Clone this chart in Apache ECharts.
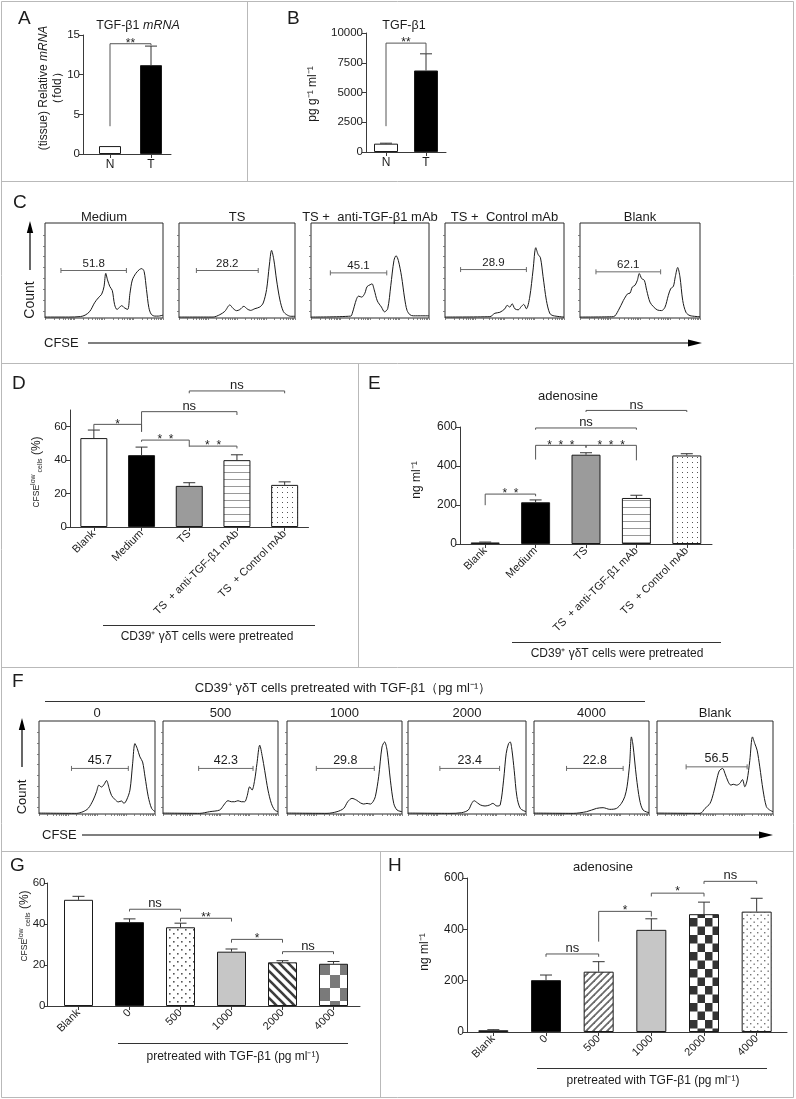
<!DOCTYPE html>
<html><head><meta charset="utf-8">
<script src="https://cdn.jsdelivr.net/npm/echarts@6/dist/echarts.min.js"></script>
<style>html,body{margin:0;padding:0;background:#fff}#c{width:796px;height:1099px}</style>
</head><body><div id="c"></div>
<script>
// ================= DATA =================
// Panel A  TGF-β1 mRNA
const aCategories = ['N', 'T'];
const aValues = [1.0, 11.2];
const aErrTop = [1.0, 13.6];
const aTicks = [0, 5, 10, 15];
const aSig = [[0, 1, 13.9, 3.5, 13.7, '**']];
// Panel B  TGF-β1 protein
const bCategories = ['N', 'T'];
const bValues = [700, 6850];
const bErrTop = [740, 8250];
const bTicks = [0, 2500, 5000, 7500, 10000];
const bSig = [[0, 1, 9150, 2170, 8250, '**']];
// Panel D  CFSE-low cells (%)
const dCategories = ['Blank', 'Medium', 'TS', 'TS  + anti-TGF-β1 mAb', 'TS  + Control mAb'];
const dValues = [53.2, 43.0, 24.6, 40.0, 25.2];
const dErrTop = [58.0, 47.8, 26.5, 43.2, 27.0];
const dTicks = [0, 20, 40, 60];
// [from, to, line value, left leg end, right leg end, label]
const dSig = [
  [0, 1, 61.4, 58, 57, '*'],
  [1, 3, 69, 57, 67, 'ns'],
  [2, 4, 81.4, 80, 80, 'ns'],
  [1, 2, 52, 51, 48, '*  *'],
  [2, 3, 48.4, 48.4, 47, '*  *']
];
// Panel E  adenosine
const eCategories = ['Blank', 'Medium', 'TS', 'TS  + anti-TGF-β1 mAb', 'TS  + Control mAb'];
const eValues = [8, 214, 458, 236, 454];
const eErrTop = [10, 226, 468, 250, 463];
const eTicks = [0, 200, 400, 600];
const eSig = [
  [0, 1, 256, 199, 245, '*  *'],
  [1, 2, 506, 433, 494, '*  *  *'],
  [2, 3, 506, 494, 429, '*  *  *'],
  [1, 3, 595, 586, 586, 'ns'],
  [2, 4, 685, 677, 677, 'ns']
];
// Panel G  CFSE-low cells (%) vs TGF-β1 dose
const gCategories = ['Blank', '0', '500', '1000', '2000', '4000'];
const gValues = [51.8, 40.9, 38.4, 26.5, 21.3, 20.6];
const gErrTop = [53.5, 42.5, 40.4, 27.8, 22.1, 21.7];
const gTicks = [0, 20, 40, 60];
const gSig = [
  [1, 2, 47.2, 46.1, 46.1, 'ns'],
  [2, 3, 42.8, 41.2, 41.2, '**'],
  [3, 4, 32.5, 30.9, 30.9, '*'],
  [4, 5, 26.5, 25.3, 25.3, 'ns']
];
// Panel H  adenosine vs TGF-β1 dose
const hCategories = ['Blank', '0', '500', '1000', '2000', '4000'];
const hValues = [7, 202, 235, 398, 459, 469];
const hErrTop = [9, 222, 274, 441, 506, 521];
const hTicks = [0, 200, 400, 600];
const hSig = [
  [1, 2, 304, 293, 293, 'ns'],
  [2, 3, 470, 352, 450, '*'],
  [3, 4, 541, 528, 528, '*'],
  [4, 5, 587, 577, 577, 'ns']
];
// Panel C flow histograms [CFSE position (0-100), % of max count]
const cTitles = ['Medium', 'TS', 'TS +  anti-TGF-β1 mAb', 'TS +  Control mAb', 'Blank'];
const cMedium = [[0,1],[20,1],[30,1.5],[34,3],[38,7],[42,16],[45,21],[48,25],[50,33],[51.5,47],[53,40],[55,33],[57,29],[59,14],[61,9],[63,11],[65,13],[67,11],[70,9],[72,26],[74,40],[77,47],[80,51],[82,52],[84,49],[86,30],[88,11],[90,4],[93,2],[96,2],[100,3]];
const cTS = [[0,1],[29.4,1],[35.2,3.5],[39.5,7],[43.8,13.7],[46.7,10],[49.6,7.7],[52.4,8.8],[55.9,12.3],[58.8,9.5],[61.7,8],[65.4,9.8],[69.7,11.6],[72.6,15.8],[75.5,30],[77.8,54.7],[79.8,71.2],[81.8,61],[84.1,40],[87,19],[89.9,7],[92.8,3.5],[96.3,1.8],[100,1.8]];
const cAnti = [[0,1],[33.7,2],[35,5],[38.5,19.7],[40.3,23],[43,22],[45.6,26],[47.5,33],[50.1,35],[51.7,36],[53.6,29.5],[56.2,18],[59.7,11.5],[62.3,6.5],[65,9.8],[67.6,34],[70.3,60.6],[72.1,65.6],[74,60.6],[76.7,44],[79.3,21],[81.4,8],[84,3.3],[86.7,2.3],[100,2.3]];
const cControl = [[0,1],[37.7,1.4],[41.9,5],[46.1,6],[50.3,9.7],[52.2,13.3],[54.5,11.5],[56.4,15],[58.7,9.7],[61.5,8.6],[64.2,12.2],[66.2,14.3],[68.4,9.7],[71.2,22],[74,50.5],[76.3,74],[78.2,67],[80.2,63.4],[82.4,43.7],[85.2,18.6],[88,5],[90.8,2.5],[100,1]];
const cBlank = [[0,1],[27.8,1.4],[31.9,7.8],[36.1,18.4],[39.7,25.5],[41.7,26.2],[43.6,32.6],[45.8,34.4],[47.8,39.7],[49.4,46.8],[51.4,41.5],[53.6,39.7],[55.6,29],[58.3,16.7],[61.1,12],[64.4,8.5],[68,7.8],[70.8,11.3],[73.6,23.8],[75.6,30.9],[77.8,33.3],[79.4,43.3],[81.4,53.2],[83.3,43.3],[85.6,18.4],[88.3,6],[91.7,2.5],[100,1.4]];
// gates: [from, to, level, label]
const cGates = [[13.5,69,50,'51.8'],[15,68.3,50,'28.2'],[16.4,64.2,47.5,'45.1'],[13.1,68.4,51,'28.9'],[13.3,67.2,48.6,'62.1']];
// Panel F flow histograms
const fTitles = ['0', '500', '1000', '2000', '4000', 'Blank'];
const fDose0 = [[0,1],[32.3,0.7],[38,2.5],[42.4,6],[46.7,15],[49.6,24],[51.6,31],[53.9,29],[56.2,32],[58.2,36],[60.5,27.5],[62.5,20],[65.4,15.7],[68.3,13],[71.2,14],[73.2,11.4],[75.5,15],[78.4,25.7],[80.7,54],[82.7,75.7],[84.7,70.4],[87,61.4],[89.3,56],[91.4,40],[94.2,18.6],[97.1,6],[100,2.5]];
const fDose500 = [[0,1],[31.9,0.7],[40.6,2.5],[49.3,4.3],[52.8,9.6],[56.5,14.3],[59.4,13.2],[62.3,13.2],[65.2,14.3],[68.1,13.2],[71,13.2],[73,18.6],[75.4,29.3],[77.4,25.7],[79.7,36.4],[81.7,54.3],[84.1,74],[86.4,61.4],[88.4,47],[91.3,25.7],[94.2,11.4],[97.1,4.3],[100,2.5]];
const fDose1000 = [[0,1],[34.8,0.7],[43.5,2.5],[49.3,6],[52.8,13.2],[56.5,16.8],[60.3,15],[63.8,12],[66.7,10.7],[69.6,11.4],[72.5,10.7],[74.8,13.2],[76.8,18.6],[79.7,40],[82.6,72],[84.9,77.5],[87,68.6],[89.9,36.4],[92.8,11.4],[95.7,4.3],[100,2.5]];
const fDose2000 = [[0,1],[35.5,0.7],[45.5,1.4],[51.1,4.3],[54,11.4],[56,14.3],[58.8,12],[61.6,9.6],[65.3,8.6],[69,9.6],[71.9,11.4],[75.3,8.6],[78.1,9.6],[81,36.4],[83.2,65],[85.2,75.7],[86.6,77.5],[88.1,68.6],[90,47],[92.3,18.6],[95.2,6],[100,2.5]];
const fDose4000 = [[0,1],[34.1,0.7],[45.7,2.5],[54.3,6],[60.1,6.8],[65.9,5],[71.7,6],[76,11.4],[78.9,18.6],[80.9,29.3],[83.2,54.3],[84.7,82.9],[86.1,74],[89,40],[91.9,15],[94.8,4.3],[100,1.4]];
const fBlank = [[0,1],[37.1,0.7],[41.4,6],[45.7,11.4],[48.6,22],[51.4,36.4],[53.7,46.4],[56.6,49],[58.6,43.6],[61.4,34.6],[63.7,31],[65.7,32],[68.6,31],[71.4,32.9],[73.7,37],[75.7,29.3],[77.7,36.4],[80,57.5],[82.3,82.9],[84.3,75.7],[86.3,68.6],[88.6,50.7],[91.4,25.7],[94.3,7.9],[97.1,4.3],[100,2.5]];
const fGates = [[28,77,49,'45.7'],[31,78.3,49,'42.3'],[25.5,75.9,49,'29.8'],[27,77.6,49,'23.4'],[28.3,77.5,49,'22.8'],[25.1,77.7,50.7,'56.5']];
// histogram axis ticks (log-like decades on the CFSE axis)
const facsYTicks = [7, 18.5, 30, 41.5, 53, 64.5, 76, 87.5];
const facsDecadeSteps = [0, 30.1, 47.7, 60.2, 69.9, 77.8, 84.5, 90.3, 95.4];

// ================= STYLE / LAYOUT =================
const FONT = '"Liberation Sans", Arial, Helvetica, sans-serif';
const INK = '#1c1c1c';
const AXIS = '#3a3a3a';

function pattern(w, h, draw) {
  const c = document.createElement('canvas');
  c.width = w; c.height = h;
  const x = c.getContext('2d');
  x.fillStyle = '#fff'; x.fillRect(0, 0, w, h);
  draw(x);
  return { image: c, repeat: 'repeat' };
}
const pHLines = pattern(4, 7, x => { x.fillStyle = '#9a9a9a'; x.fillRect(0, 3, 4, 1); });
const pDots = pattern(5, 5, x => { x.fillStyle = '#555'; x.fillRect(2, 2, 1, 1); });
const pDotsStag = pattern(8, 8, x => { x.fillStyle = '#555'; x.fillRect(1, 1, 1.6, 1.6); x.fillRect(5, 5, 1.6, 1.6); });
const pDotsStagLight = pattern(7, 7, x => { x.fillStyle = '#777'; x.fillRect(1, 1, 1.4, 1.4); x.fillRect(4.5, 4.5, 1.4, 1.4); });
const pDiagDown = pattern(9, 9, x => {
  x.strokeStyle = '#3c3c3c'; x.lineWidth = 2.6;
  for (let k = -9; k <= 9; k += 9) { x.beginPath(); x.moveTo(k - 1, -1); x.lineTo(k + 10, 10); x.stroke(); }
});
const pDiagUp = pattern(7, 7, x => {
  x.strokeStyle = '#6a6a6a'; x.lineWidth = 1.8;
  for (let k = -7; k <= 14; k += 7) { x.beginPath(); x.moveTo(k - 1, 8); x.lineTo(k + 8, -1); x.stroke(); }
});
const pChecker = pattern(20, 26, x => { x.fillStyle = '#7a7a7a'; x.fillRect(0, 0, 10, 13); x.fillRect(10, 13, 10, 13); });
const pCheckerDark = pattern(15, 17, x => { x.fillStyle = '#333'; x.fillRect(0, 0, 7.5, 8.5); x.fillRect(7.5, 8.5, 7.5, 8.5); });

const aFills = ['#fff', '#000'];
const bFills = ['#fff', '#000'];
const dFills = ['#fff', '#000', '#9b9b9b', pHLines, pDots];
const eFills = ['#fff', '#000', '#9b9b9b', pHLines, pDots];
const gFills = ['#fff', '#000', pDotsStag, '#c6c6c6', pDiagDown, pChecker];
const hFills = ['#fff', '#000', pDiagUp, '#c6c6c6', pCheckerDark, pDotsStagLight];

const grids = [], xAxes = [], yAxes = [], series = [], G = [];
function addGrid(g) { grids.push(Object.assign({ outerBoundsMode: 'none', containLabel: false }, g)); return grids.length - 1; }

function errRender(cap) {
  return function (params, api) {
    const i = api.value(0), v = api.value(1), e = api.value(2);
    if (e - v <= 0) return null;
    const b = api.coord([i, v]), t = api.coord([i, e]);
    return { type: 'group', children: [
      { type: 'line', shape: { x1: b[0], y1: b[1], x2: t[0], y2: t[1] }, style: { stroke: '#333', lineWidth: 1 } },
      { type: 'line', shape: { x1: t[0] - cap, y1: t[1], x2: t[0] + cap, y2: t[1] }, style: { stroke: '#333', lineWidth: 1 } }
    ] };
  };
}
function sigRender(sig, nsSize, starSize, starShift) {
  return function (params, api) {
    const s = sig[params.dataIndex];
    const a = api.coord([s[0], s[2]]), b = api.coord([s[1], s[2]]);
    const l1 = api.coord([s[0], s[3]]), l2 = api.coord([s[1], s[4]]);
    const star = s[5].indexOf('*') >= 0;
    const st = { stroke: '#555', lineWidth: 1 };
    return { type: 'group', children: [
      { type: 'line', shape: { x1: a[0], y1: a[1], x2: b[0], y2: b[1] }, style: st },
      { type: 'line', shape: { x1: a[0], y1: a[1], x2: l1[0], y2: l1[1] }, style: st },
      { type: 'line', shape: { x1: b[0], y1: b[1], x2: l2[0], y2: l2[1] }, style: st },
      { type: 'text', x: (a[0] + b[0]) / 2, y: a[1] + (star ? starShift : 1),
        style: { text: s[5], fontSize: star ? starSize : nsSize, fontFamily: FONT, fill: INK,
          align: 'center', verticalAlign: 'bottom', textAlign: 'center', textVerticalAlign: 'bottom' } }
    ] };
  };
}

function barPanel(p) {
  const ag = addGrid({ left: p.axisLeft, top: p.top, width: p.axisRight - p.axisLeft, height: p.height });
  xAxes.push({ gridIndex: ag, type: 'value', min: 0, max: 1, axisLine: { show: true, onZero: false, lineStyle: { color: AXIS, width: 1 } },
    axisTick: { show: false }, axisLabel: { show: false }, splitLine: { show: false } });
  yAxes.push({ gridIndex: ag, type: 'value', min: 0, max: p.max,
    axisLine: { show: true, onZero: false, lineStyle: { color: AXIS, width: 1 } },
    axisTick: { show: true, length: p.tickLen || 4, customValues: p.ticks, lineStyle: { color: AXIS } },
    axisLabel: { customValues: p.ticks, formatter: v => String(v), fontSize: p.tickSize || 11, fontFamily: FONT, color: INK, margin: p.tickMargin || 3 },
    splitLine: { show: false } });
  const dg = addGrid({ left: p.dataLeft, top: p.top, width: p.dataWidth, height: p.height });
  const xi = xAxes.length;
  xAxes.push({ gridIndex: dg, type: 'category', data: p.cats,
    axisLine: { show: false }, axisTick: { show: true, alignWithLabel: true, length: 4, lineStyle: { color: AXIS } },
    axisLabel: { interval: 0, rotate: p.rotate || 0, fontSize: p.labelSize || 11, fontFamily: FONT, color: INK, margin: p.labelMargin || 5 },
    splitLine: { show: false } });
  const yi = yAxes.length;
  yAxes.push({ gridIndex: dg, type: 'value', min: 0, max: p.max, show: false, splitLine: { show: false } });
  series.push({ type: 'bar', xAxisIndex: xi, yAxisIndex: yi, barWidth: p.barWidth, silent: true, z: 2,
    data: p.vals.map((v, i) => ({ value: v, itemStyle: { color: p.fills[i], borderColor: '#1a1a1a', borderWidth: 1 } })) });
  series.push({ type: 'custom', xAxisIndex: xi, yAxisIndex: yi, clip: false, silent: true, z: 3,
    data: p.vals.map((v, i) => [i, v, p.errs[i]]), renderItem: errRender(p.cap) });
  series.push({ type: 'custom', xAxisIndex: xi, yAxisIndex: yi, clip: false, silent: true, z: 3,
    data: p.sig.map(s => [s[0], s[2], s[1], s[3], s[4]]), renderItem: sigRender(p.sig, p.nsSize || 13, p.starSize || 12, p.starShift || 6) });
}

function gateRender(gate, size, lift) {
  return function (params, api) {
    const a = api.coord([gate[0], gate[2]]), b = api.coord([gate[1], gate[2]]);
    const st = { stroke: '#6a6a6a', lineWidth: 1 };
    return { type: 'group', children: [
      { type: 'line', shape: { x1: a[0], y1: a[1], x2: b[0], y2: b[1] }, style: st },
      { type: 'line', shape: { x1: a[0], y1: a[1] - 2.5, x2: a[0], y2: a[1] + 2.5 }, style: st },
      { type: 'line', shape: { x1: b[0], y1: b[1] - 2.5, x2: b[0], y2: b[1] + 2.5 }, style: st },
      { type: 'text', x: (a[0] + b[0]) / 2, y: a[1] - lift,
        style: { text: gate[3], fontSize: size, fontFamily: FONT, fill: INK, align: 'center', verticalAlign: 'middle', textAlign: 'center', textVerticalAlign: 'middle' } }
    ] };
  };
}
const facsXTicks = [];
for (let d = 0; d < 4; d++) facsDecadeSteps.forEach(s => facsXTicks.push(d * 25 + s * 0.25));
facsXTicks.push(100);

function facs(box, curve, gate, gateSize, gateLift) {
  const gi = addGrid({ left: box[0], top: box[1], width: box[2] - box[0], height: box[3] - box[1], show: true, borderColor: '#2a2a2a', borderWidth: 1, backgroundColor: 'transparent' });
  const xi = xAxes.length;
  xAxes.push({ gridIndex: gi, type: 'value', min: 0, max: 100, axisLine: { show: false },
    axisTick: { show: true, length: 2, customValues: facsXTicks, lineStyle: { color: '#666', width: 0.8 } },
    axisLabel: { show: false }, splitLine: { show: false } });
  const yi = yAxes.length;
  yAxes.push({ gridIndex: gi, type: 'value', min: 0, max: 100, axisLine: { show: false },
    axisTick: { show: true, length: 2, customValues: facsYTicks, lineStyle: { color: '#666', width: 0.8 } },
    axisLabel: { show: false }, splitLine: { show: false } });
  series.push({ type: 'line', xAxisIndex: xi, yAxisIndex: yi, data: curve, symbol: 'none', showSymbol: false, smooth: 0.3,
    lineStyle: { color: '#1a1a1a', width: 1 }, silent: true });
  series.push({ type: 'custom', xAxisIndex: xi, yAxisIndex: yi, clip: false, silent: true,
    data: [[gate[0], gate[2], gate[1]]], renderItem: gateRender(gate, gateSize, gateLift) });
}

// graphic helpers
function txt(x, y, text, size, o) {
  o = o || {};
  G.push({ type: 'text', x: x, y: y, rotation: o.rot || 0, silent: true, z: 100,
    style: Object.assign({ text: text, fontSize: size, fontFamily: FONT, fill: INK,
      align: o.align || 'center', verticalAlign: o.va || 'middle', textAlign: o.align || 'center', textVerticalAlign: o.va || 'middle' }, o.style || {}) });
}
function ln(x1, y1, x2, y2, color, w) { G.push({ type: 'line', silent: true, z: 100, shape: { x1, y1, x2, y2 }, style: { stroke: color, lineWidth: w || 1 } }); }
function tri(points) { G.push({ type: 'polygon', silent: true, z: 100, shape: { points: points }, style: { fill: '#000' } }); }

// ---- bar panels ----
barPanel({ axisLeft: 83, axisRight: 171, dataLeft: 89.5, dataWidth: 82, top: 35, height: 119, max: 15, ticks: aTicks,
  cats: aCategories, vals: aValues, errs: aErrTop, fills: aFills, barWidth: 22, cap: 6, sig: aSig, labelSize: 12, tickSize: 11.5, starSize: 12, starShift: 6 });
barPanel({ axisLeft: 366, axisRight: 446, dataLeft: 366, dataWidth: 80, top: 33, height: 119, max: 10000, ticks: bTicks,
  cats: bCategories, vals: bValues, errs: bErrTop, fills: bFills, barWidth: 24, cap: 6, sig: bSig, labelSize: 12, tickSize: 11.5, starSize: 12, starShift: 6 });
barPanel({ axisLeft: 70, axisRight: 308.5, dataLeft: 70, dataWidth: 238.5, top: 410, height: 117, max: 70, ticks: dTicks,
  cats: dCategories, vals: dValues, errs: dErrTop, fills: dFills, barWidth: 27, cap: 6, sig: dSig, rotate: 45, labelSize: 11, tickSize: 11.5, starShift: 6 });
barPanel({ axisLeft: 460, axisRight: 712, dataLeft: 460, dataWidth: 252, top: 427, height: 117, max: 600, ticks: eTicks,
  cats: eCategories, vals: eValues, errs: eErrTop, fills: eFills, barWidth: 29, cap: 6, sig: eSig, rotate: 45, labelSize: 11, tickSize: 12, starShift: 6 });
barPanel({ axisLeft: 47, axisRight: 360, dataLeft: 53, dataWidth: 306, top: 883, height: 123, max: 60, ticks: gTicks,
  cats: gCategories, vals: gValues, errs: gErrTop, fills: gFills, barWidth: 29, cap: 6, sig: gSig, rotate: 45, labelSize: 11, tickSize: 11.5, tickLen: 3, tickMargin: 1.5, starShift: 5 });
barPanel({ axisLeft: 467, axisRight: 787, dataLeft: 467, dataWidth: 316, top: 878, height: 154, max: 600, ticks: hTicks,
  cats: hCategories, vals: hValues, errs: hErrTop, fills: hFills, barWidth: 30, cap: 6, sig: hSig, rotate: 45, labelSize: 11, tickSize: 12, starShift: 5 });

// ---- flow histograms ----
const cBoxes = [[45, 223, 163, 318], [179, 223, 295, 318], [311, 223, 429, 318], [445, 223, 564, 318], [580, 223, 700, 318]];
const cCurves = [cMedium, cTS, cAnti, cControl, cBlank];
cBoxes.forEach((b, i) => { facs(b, cCurves[i], cGates[i], 11.5, 7); txt((b[0] + b[2]) / 2, 217, cTitles[i], 13); });
const fBoxes = [[39, 721, 155, 814], [163, 721, 278, 814], [287, 721, 402, 814], [408, 721, 526, 814], [534, 721, 649, 814], [657, 721, 773, 814]];
const fCurves = [fDose0, fDose500, fDose1000, fDose2000, fDose4000, fBlank];
fBoxes.forEach((b, i) => { facs(b, fCurves[i], fGates[i], 12.5, 8); txt((b[0] + b[2]) / 2, 713, fTitles[i], 13); });

// ---- panel frame ----
const FR = '#b9b9b9';
G.push({ type: 'rect', silent: true, z: 100, shape: { x: 1.5, y: 1.5, width: 792, height: 1096 }, style: { fill: null, stroke: FR, lineWidth: 1 } });
ln(1, 181.5, 794, 181.5, FR); ln(247.5, 1, 247.5, 181, FR);
ln(1, 363.5, 794, 363.5, FR); ln(358.5, 363, 358.5, 667, FR);
ln(1, 667.5, 794, 667.5, FR); ln(1, 851.5, 794, 851.5, FR); ln(380.5, 851, 380.5, 1098, FR);

// ---- panel letters ----
[['A', 18, 18.5], ['B', 287, 18.5], ['C', 13, 203], ['D', 12, 384], ['E', 368, 384], ['F', 12, 682], ['G', 10, 866], ['H', 388, 866]]
  .forEach(l => txt(l[1], l[2], l[0], 19, { align: 'left' }));

// ---- titles & axis names ----
txt(138, 26, 'TGF-β1 {i|mRNA}', 12.5, { style: { rich: { i: { fontStyle: 'italic', fontSize: 12.5, fontFamily: FONT } } } });
txt(404, 26, 'TGF-β1', 12.5);
txt(568, 396, 'adenosine', 13);
txt(603, 867, 'adenosine', 13);
txt(51, 88, '(tissue) Relative {i|mRNA}\n（fold）', 12, { rot: Math.PI / 2, style: { lineHeight: 14, rich: { i: { fontStyle: 'italic', fontSize: 12, fontFamily: FONT, lineHeight: 14 } } } });
txt(313, 94, 'pg g⁻¹ ml⁻¹', 12, { rot: Math.PI / 2 });
const cfseRich = { rich: {
  s: { fontSize: 8.5, fontFamily: FONT, lineHeight: 14, verticalAlign: 'middle' },
  sup: { fontSize: 7, fontFamily: FONT, lineHeight: 14, verticalAlign: 'top' },
  sub: { fontSize: 7, fontFamily: FONT, lineHeight: 14, verticalAlign: 'bottom' },
  p: { fontSize: 12, fontFamily: FONT, lineHeight: 14, verticalAlign: 'middle' } } };
txt(37, 472, '{s|CFSE}{sup|low}{sub| cells} {p|(%)}', 12, { rot: Math.PI / 2, style: cfseRich });
txt(25, 926, '{s|CFSE}{sup|low}{sub| cells} {p|(%)}', 12, { rot: Math.PI / 2, style: cfseRich });
txt(417, 480, 'ng ml⁻¹', 12, { rot: Math.PI / 2 });
txt(425, 952, 'ng ml⁻¹', 12, { rot: Math.PI / 2 });

// group labels under x axes
ln(103, 625.5, 315, 625.5, '#333'); txt(207, 637, 'CD39⁺ γδT cells were pretreated', 12);
ln(512, 642.5, 721, 642.5, '#333'); txt(617, 654, 'CD39⁺ γδT cells were pretreated', 12);
ln(118, 1043.5, 348, 1043.5, '#333'); txt(233, 1057, 'pretreated with TGF-β1 (pg ml⁻¹)', 12);
ln(537, 1068.5, 767, 1068.5, '#333'); txt(653, 1081, 'pretreated with TGF-β1 (pg ml⁻¹)', 12);
ln(45, 701.5, 645, 701.5, '#333'); txt(343, 688, 'CD39⁺ γδT cells pretreated with TGF-β1（pg ml⁻¹）', 13);

// Count / CFSE arrows
ln(30, 270, 30, 232, '#000', 1.2); tri([[30, 221], [26.8, 233], [33.2, 233]]); txt(30, 300, 'Count', 14, { rot: Math.PI / 2 });
txt(44, 343, 'CFSE', 13, { align: 'left' }); ln(88, 343, 690, 343, '#000', 1.2); tri([[702, 343], [688, 339.6], [688, 346.4]]);
ln(22, 767, 22, 729, '#000', 1.2); tri([[22, 718], [18.8, 730], [25.2, 730]]); txt(22, 797, 'Count', 13, { rot: Math.PI / 2 });
txt(42, 835, 'CFSE', 13, { align: 'left' }); ln(82, 835, 761, 835, '#000', 1.2); tri([[773, 835], [759, 831.6], [759, 838.4]]);

const chart = echarts.init(document.getElementById('c'), null, { renderer: 'canvas', width: 796, height: 1099 });
chart.setOption({
  animation: false,
  backgroundColor: '#fff',
  textStyle: { fontFamily: FONT },
  grid: grids, xAxis: xAxes, yAxis: yAxes, series: series,
  graphic: { elements: G }
});
</script>
</body></html>
